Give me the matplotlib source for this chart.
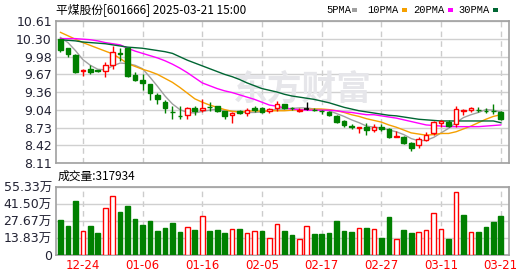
import matplotlib
matplotlib.use('Agg')
import matplotlib.pyplot as plt
import numpy as np

plt.rcParams['font.family'] = ['DejaVu Sans', 'Noto Sans CJK SC']

dates = ['12-19', '12-20', '12-23', '12-24', '12-25', '12-26', '12-27', '12-30', '12-31',
         '01-02', '01-03', '01-06', '01-07', '01-08', '01-09', '01-10', '01-13', '01-14',
         '01-15', '01-16', '01-17', '01-20', '01-21', '01-22', '01-23', '01-24', '01-27',
         '02-05', '02-06', '02-07', '02-10', '02-11', '02-12', '02-13', '02-14', '02-17',
         '02-18', '02-19', '02-20', '02-21', '02-24', '02-25', '02-26', '02-27', '02-28',
         '03-03', '03-04', '03-05', '03-06', '03-07', '03-10', '03-11', '03-12', '03-13',
         '03-14', '03-17', '03-18', '03-19', '03-20', '03-21']
opens = [10.29, 10.13, 10.01, 9.73, 9.77, 9.74, 9.73, 9.83, 10.04, 10.13,
         9.66, 9.58, 9.50, 9.30, 9.18, 9.01, 8.94, 8.96, 9.08, 9.04,
         9.10, 9.11, 9.02, 8.96, 9.02, 8.99, 9.08, 9.08, 9.02, 9.07,
         9.15, 9.08, 9.03, 9.055, 9.05, 9.03, 9.00, 8.93, 8.85, 8.76,
         8.73, 8.75, 8.69, 8.75, 8.70, 8.57, 8.57, 8.46, 8.43, 8.52,
         8.64, 8.81, 8.84, 8.79, 9.02, 9.05, 9.05, 9.03, 9.03, 9.00]
highs = [10.30, 10.14, 10.03, 9.77, 9.84, 9.75, 9.88, 10.17, 10.14, 10.14,
         9.71, 9.68, 9.50, 9.35, 9.22, 9.11, 9.11, 9.10, 9.12, 9.23,
         9.19, 9.11, 9.02, 9.00, 9.04, 9.08, 9.12, 9.10, 9.08, 9.20,
         9.15, 9.10, 9.07, 9.18, 9.07, 9.05, 9.02, 8.96, 8.87, 8.80,
         8.75, 8.82, 8.80, 8.80, 8.73, 8.68, 8.58, 8.48, 8.57, 8.66,
         8.85, 8.87, 8.87, 9.11, 9.06, 9.10, 9.10, 9.07, 9.14, 9.02]
lows = [10.07, 9.97, 9.70, 9.65, 9.68, 9.71, 9.62, 9.77, 9.91, 9.63,
        9.55, 9.39, 9.22, 9.14, 8.99, 8.89, 8.89, 8.89, 8.96, 9.00,
        9.02, 9.00, 8.89, 8.82, 8.97, 8.93, 9.00, 8.99, 8.99, 9.03,
        9.06, 9.04, 9.00, 9.05, 9.02, 8.97, 8.94, 8.81, 8.75, 8.71,
        8.63, 8.61, 8.66, 8.68, 8.55, 8.57, 8.45, 8.32, 8.38, 8.50,
        8.60, 8.75, 8.75, 8.75, 8.95, 9.00, 9.00, 8.99, 8.98, 8.86]
closes = [10.10, 10.03, 9.71, 9.74, 9.72, 9.73, 9.83, 10.06, 10.03, 9.65,
          9.58, 9.51, 9.34, 9.23, 9.07, 9.00, 8.93, 9.07, 9.02, 9.08,
          9.09, 9.02, 8.94, 8.99, 8.99, 9.04, 9.04, 9.00, 9.06, 9.15,
          9.07, 9.07, 9.05, 9.055, 9.04, 9.02, 8.96, 8.84, 8.78, 8.75,
          8.75, 8.69, 8.75, 8.70, 8.57, 8.58, 8.47, 8.37, 8.53, 8.60,
          8.84, 8.85, 8.76, 9.06, 9.05, 9.07, 9.04, 9.02, 9.02, 8.88]

ma5 = [10.32, 10.23, 10.09, 9.93, 9.83, 9.76, 9.75, 9.82, 9.87, 9.86,
       9.83, 9.77, 9.62, 9.46, 9.29, 9.15, 9.05, 9.00, 8.99, 9.02,
       9.04, 9.06, 9.03, 9.02, 9.01, 9.00, 9.00, 9.01, 9.03, 9.06,
       9.06, 9.07, 9.08, 9.08, 9.06, 9.05, 9.03, 8.98, 8.93, 8.87,
       8.82, 8.76, 8.74, 8.73, 8.69, 8.66, 8.61, 8.54, 8.50, 8.51,
       8.56, 8.64, 8.72, 8.82, 8.91, 8.96, 9.00, 9.05, 9.04, 9.01]
ma10 = [10.41, 10.35, 10.29, 10.23, 10.18, 10.13, 10.08, 10.03, 9.95, 9.86,
        9.81, 9.76, 9.72, 9.67, 9.60, 9.53, 9.44, 9.34, 9.24, 9.18,
        9.13, 9.09, 9.05, 9.02, 9.01, 9.02, 9.03, 9.02, 9.03, 9.03,
        9.03, 9.04, 9.05, 9.05, 9.06, 9.06, 9.05, 9.03, 9.00, 8.96,
        8.93, 8.89, 8.86, 8.83, 8.78, 8.74, 8.69, 8.64, 8.62, 8.60,
        8.61, 8.63, 8.63, 8.66, 8.71, 8.76, 8.82, 8.88, 8.93, 8.96]
ma20 = [10.30, 10.30, 10.30, 10.29, 10.28, 10.26, 10.23, 10.21, 10.19, 10.13,
        10.08, 10.04, 10.00, 9.96, 9.91, 9.85, 9.78, 9.70, 9.61, 9.52,
        9.47, 9.42, 9.38, 9.35, 9.31, 9.27, 9.23, 9.18, 9.13, 9.11,
        9.08, 9.06, 9.05, 9.04, 9.04, 9.04, 9.04, 9.03, 9.01, 9.00,
        8.98, 8.96, 8.96, 8.94, 8.92, 8.90, 8.87, 8.84, 8.81, 8.78,
        8.77, 8.76, 8.75, 8.75, 8.75, 8.75, 8.75, 8.76, 8.77, 8.78]
ma30 = [10.28, 10.27, 10.26, 10.24, 10.23, 10.22, 10.21, 10.19, 10.17, 10.15,
        10.14, 10.13, 10.11, 10.09, 10.07, 10.04, 9.98, 9.92, 9.87, 9.82,
        9.77, 9.72, 9.67, 9.63, 9.58, 9.52, 9.47, 9.42, 9.39, 9.36,
        9.32, 9.29, 9.27, 9.25, 9.23, 9.20, 9.17, 9.13, 9.09, 9.06,
        9.03, 9.01, 8.99, 8.97, 8.95, 8.94, 8.92, 8.90, 8.88, 8.87,
        8.86, 8.85, 8.85, 8.85, 8.85, 8.85, 8.85, 8.85, 8.85, 8.82]

# volume in 万
volumes = [28.3, 23.5, 43.7, 19.4, 23.5, 17.8, 38.6, 48.3, 34.8, 39.7,
           29.1, 24.3, 27.5, 19.4, 21.6, 25.9, 18.6, 22.4, 20.2, 32.1,
           19.4, 20.2, 17.8, 20.8, 21.1, 17.5, 19.4, 19.4, 13.5, 25.6,
           19.4, 16.2, 12.7, 23.2, 16.7, 16.7, 17.5, 27.5, 19.4, 18.6,
           21.6, 21.6, 20.8, 13.8, 30.8, 12.7, 20.2, 17.8, 18.4, 20.0,
           34.5, 20.8, 13.0, 51.6, 32.4, 18.4, 18.6, 22.7, 26.7, 31.79]
vol_up = [0, 0, 0, 1, 0, 0, 1, 1, 0, 0,
          0, 0, 0, 0, 0, 0, 0, 1, 0, 1,
          0, 0, 0, 1, 0, 1, 1, 0, 1, 1,
          0, 0, 1, 1, 0, 0, 0, 0, 0, 0,
          1, 0, 1, 0, 0, 1, 0, 0, 1, 1,
          1, 1, 0, 1, 0, 1, 0, 0, 0, 0]

price_ticks = [10.61, 10.30, 9.98, 9.67, 9.36, 9.04, 8.73, 8.42, 8.11]
vol_ticks = [0, 13.83, 27.67, 41.50, 55.33]
label_dates = ['12-24', '01-06', '01-16', '02-05', '02-17', '02-27', '03-11', '03-21']

RED = '#ff0000'
GREEN = '#008000'
GRID = '#d0d0d0'
BORDER = '#a0a0a0'
ma_colors = ['#a0a0a0', '#f5a000', '#ff00ff', '#006633']

W, H = 530, 276
fig = plt.figure(figsize=(W / 100, H / 100), dpi=100)
ax = fig.add_axes([56 / W, 1 - 163 / H, 453 / W, 142 / H])
axv = fig.add_axes([56 / W, 1 - 255 / H, 453 / W, 68 / H])

x = np.arange(len(dates))
tick_pos = [dates.index(d) for d in label_dates]

for a in (ax, axv):
    a.set_xlim(-0.6, 60.1)
    for s in a.spines.values():
        s.set_color(BORDER)
        s.set_linewidth(1.2)
    a.tick_params(length=0, labelsize=9, colors='#222233', pad=3)
    for p in tick_pos:
        a.axvline(p, color='#cccccc', lw=1, ls=(0, (4, 3)), zorder=0)

# price panel
ax.set_ylim(price_ticks[-1], price_ticks[0])
ax.set_yticks(price_ticks)
ax.set_yticklabels(['%.2f' % t for t in price_ticks])
ax.set_xticks([])
for t in price_ticks:
    ax.axhline(t, color=GRID, lw=1, zorder=0)

ax.text(0.545, 0.52, '东方财富', transform=ax.transAxes, ha='center', va='center',
        fontsize=25, fontweight='bold', color='#e6e6ea',
        family=['Noto Sans CJK SC'], zorder=0.5)

for ma, c in zip([ma5, ma10, ma20, ma30], ma_colors):
    ax.plot(x, ma, color=c, lw=1, zorder=2)

o = np.array(opens)
c = np.array(closes)
up = c > o
down = c < o
flat = c == o
cols = np.where(up, RED, np.where(down, GREEN, '#000000'))
ax.vlines(x, lows, highs, colors=cols, lw=1, zorder=3)
body_lo = np.minimum(o, c)
body_h = np.maximum(np.abs(c - o), 0.004)
ax.bar(x[up], body_h[up], bottom=body_lo[up], width=0.62, facecolor='white',
       edgecolor=RED, lw=1, zorder=4)
ax.bar(x[down], body_h[down], bottom=body_lo[down], width=0.62, facecolor=GREEN,
       edgecolor=GREEN, lw=1, zorder=4)
ax.hlines(c[flat], x[flat] - 0.31, x[flat] + 0.31, colors='#000000', lw=1.2, zorder=4)

# volume panel
axv.set_ylim(0, vol_ticks[-1])
axv.set_yticks(vol_ticks)
axv.set_yticklabels(['0'] + ['%.2f万' % t for t in vol_ticks[1:]])
axv.set_xticks(tick_pos)
axv.set_xticklabels(label_dates, color=RED, fontsize=8.5)
for t in vol_ticks[1:]:
    axv.axhline(t, color=GRID, lw=1, zorder=0)
vu = np.array(vol_up, dtype=bool)
vols = np.array(volumes)
axv.bar(x[vu], vols[vu], width=0.62, facecolor='white', edgecolor=RED, lw=1, zorder=3)
axv.bar(x[~vu], vols[~vu], width=0.62, facecolor=GREEN, edgecolor=GREEN, lw=1, zorder=3)

# header texts
fig.text(56 / W, 1 - 10 / H, '平煤股份[601666] 2025-03-21 15:00', ha='left', va='center',
         fontsize=8.5, family=['Noto Sans CJK SC', 'DejaVu Sans'], color='#000000')
fig.text(58 / W, 1 - 176 / H, '成交量:317934', ha='left', va='center',
         fontsize=8.5, family=['Noto Sans CJK SC', 'DejaVu Sans'], color='#000000')

legend_items = [('5PMA', 326, 352), ('10PMA', 367, 402), ('20PMA', 413, 448), ('30PMA', 458, 493)]
for (name, tx, sx), mc in zip(legend_items, ma_colors):
    fig.text(tx / W, 1 - 10 / H, name, ha='left', va='center', fontsize=7.5,
             family=['Liberation Mono'], color='#000000')
    fig.patches.append(plt.Rectangle((sx / W, 1 - 12 / H), 5 / W, 4 / H,
                                     transform=fig.transFigure, facecolor=mc,
                                     edgecolor='none'))

plt.savefig('out.png', dpi=100)
